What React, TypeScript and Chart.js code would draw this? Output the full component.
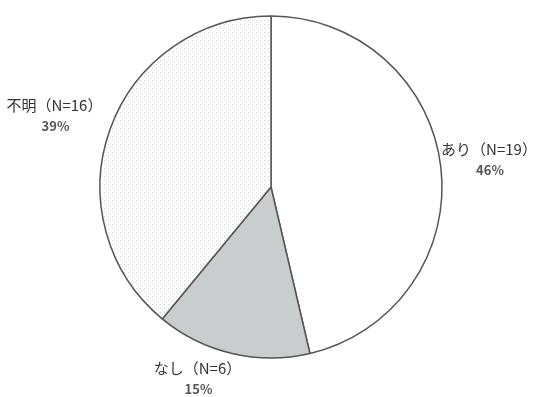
import React, { useEffect, useRef } from "react";
import { Chart, registerables } from "chart.js";

Chart.register(...registerables);

const categories = ["あり", "なし", "不明"];
const counts = [19, 6, 16];
const percentLabels = ["46%", "15%", "39%"];
// label anchor offsets in units of the pie radius (relative to the pie centre)
const labelOffsets = [
  [1.275, -0.222],
  [-0.43, 1.058],
  [-1.266, -0.48],
];

function makeDotPattern(): CanvasPattern | string {
  const c = document.createElement("canvas");
  c.width = 4;
  c.height = 4;
  const g = c.getContext("2d");
  if (!g) return "#f2f2f2";
  g.fillStyle = "#ffffff";
  g.fillRect(0, 0, 4, 4);
  g.fillStyle = "#d2d2d2";
  g.fillRect(0, 0, 1, 1);
  g.fillStyle = "#e6e6e6";
  g.fillRect(2, 2, 1, 1);
  const p = g.createPattern(c, "repeat");
  return p || "#f2f2f2";
}

const labelPlugin = {
  id: "outerLabels",
  afterDatasetsDraw(chart: any) {
    const ctx = chart.ctx;
    const meta = chart.getDatasetMeta(0);
    ctx.save();
    ctx.textAlign = "center";
    ctx.textBaseline = "middle";
    meta.data.forEach((arc: any, i: number) => {
      const r = arc.outerRadius;
      const x = arc.x + labelOffsets[i][0] * r;
      const y = arc.y + labelOffsets[i][1] * r;
      ctx.font = "15px 'Noto Sans CJK JP', 'Noto Sans', sans-serif";
      ctx.fillStyle = "#333333";
      ctx.fillText(`${categories[i]}（N=${counts[i]}）`, x, y);
      ctx.font = "bold 13px 'Noto Sans CJK JP', 'Noto Sans', sans-serif";
      ctx.fillStyle = "#555555";
      ctx.fillText(percentLabels[i], x + 1, y + 21);
    });
    ctx.restore();
  },
};

export default function App() {
  const ref = useRef<HTMLCanvasElement | null>(null);
  useEffect(() => {
    if (!ref.current) return;
    const chart = new Chart(ref.current, {
      type: "pie",
      data: {
        labels: categories,
        datasets: [
          {
            data: counts,
            backgroundColor: ["#ffffff", "#c9cdcd", makeDotPattern()],
            borderColor: "#555555",
            borderWidth: 1.5,
          },
        ],
      },
      options: {
        responsive: false,
        animation: false,
        radius: 171,
        layout: { padding: { left: 6, right: 0, top: 0, bottom: 23 } },
        plugins: {
          legend: { display: false },
          tooltip: { enabled: false },
        },
      } as any,
      plugins: [labelPlugin],
    });
    return () => chart.destroy();
  }, []);
  return (
    <div style={{ position: "fixed", left: 0, top: 0, width: 536, height: 397, background: "#ffffff" }}>
      <canvas ref={ref} width={536} height={397} />
    </div>
  );
}
